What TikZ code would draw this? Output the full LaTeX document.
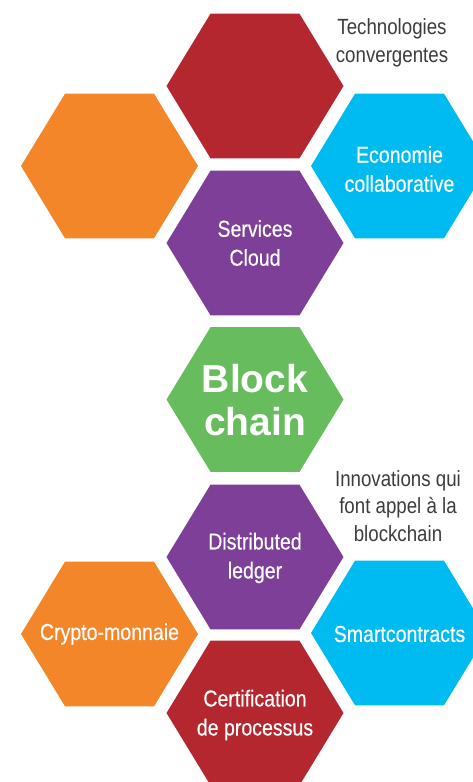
\documentclass[tikz,border=0pt]{standalone}
\usepackage{fontspec}
\setmainfont{Liberation Sans}
\newfontfamily\condfont[FakeStretch=0.85,FakeBold=0.4]{Liberation Sans}
\newfontfamily\greyfont[FakeStretch=0.85]{Liberation Sans}
\definecolor{hexred}{HTML}{B5272F}
\definecolor{hexorange}{HTML}{F4862A}
\definecolor{hexcyan}{HTML}{00BBF0}
\definecolor{hexpurple}{HTML}{7E3F98}
\definecolor{hexgreen}{HTML}{67BD5E}
\definecolor{greytext}{HTML}{3C3C3C}
\newcommand\hexfill[3]{%
  \fill[#1] (#2-88.5,#3) -- (#2-44.5,#3-72.3) -- (#2+44.5,#3-72.3) -- (#2+88.5,#3)
    -- (#2+44.5,#3+72.3) -- (#2-44.5,#3+72.3) -- cycle;}
\tikzset{
  hexlabel/.style={align=center, text=white, inner sep=0pt,
    font=\condfont\fontsize{23}{29}\selectfont},
  bigtext/.style={align=center, text=white, inner sep=0pt,
    font=\bfseries\fontsize{39}{43}\selectfont},
  greylabel/.style={align=center, text=greytext, inner sep=0pt,
    font=\greyfont\fontsize{22}{27.8}\selectfont}
}
\begin{document}
\begin{tikzpicture}[x=1pt,y=-1pt]
\useasboundingbox (0,0) rectangle (472,782);
% top group
\hexfill{hexred}{255}{86}
\hexfill{hexorange}{109.5}{166}
\hexfill{hexcyan}{399.5}{166}
\hexfill{hexpurple}{255}{243}
% centre
\hexfill{hexgreen}{255}{399.5}
% bottom group
\hexfill{hexpurple}{255}{557}
\hexfill{hexorange}{109.5}{634}
\hexfill{hexcyan}{399.5}{633}
\hexfill{hexred}{255}{713}
% labels
\node[greylabel] (tech) at (392,43) {Technologies\\convergentes};
\node[hexlabel] (eco) at (399.5,169) {Economie\\collaborative};
\node[hexlabel] (cloud) at (255,243) {Services\\Cloud};
\node[bigtext] (block) at (255,400) {Block\\chain};
\node[greylabel] (innov) at (398,506) {Innovations qui\\font appel à la\\blockchain};
\node[hexlabel] (ledger) at (255,558) {Distributed\\ledger};
\node[hexlabel] (crypto) at (109.5,634) {Crypto-monnaie};
\node[hexlabel] (smart) at (399.5,634) {Smartcontracts};
\node[hexlabel] (certif) at (255,715) {Certification\\de processus};
\end{tikzpicture}
\end{document}
